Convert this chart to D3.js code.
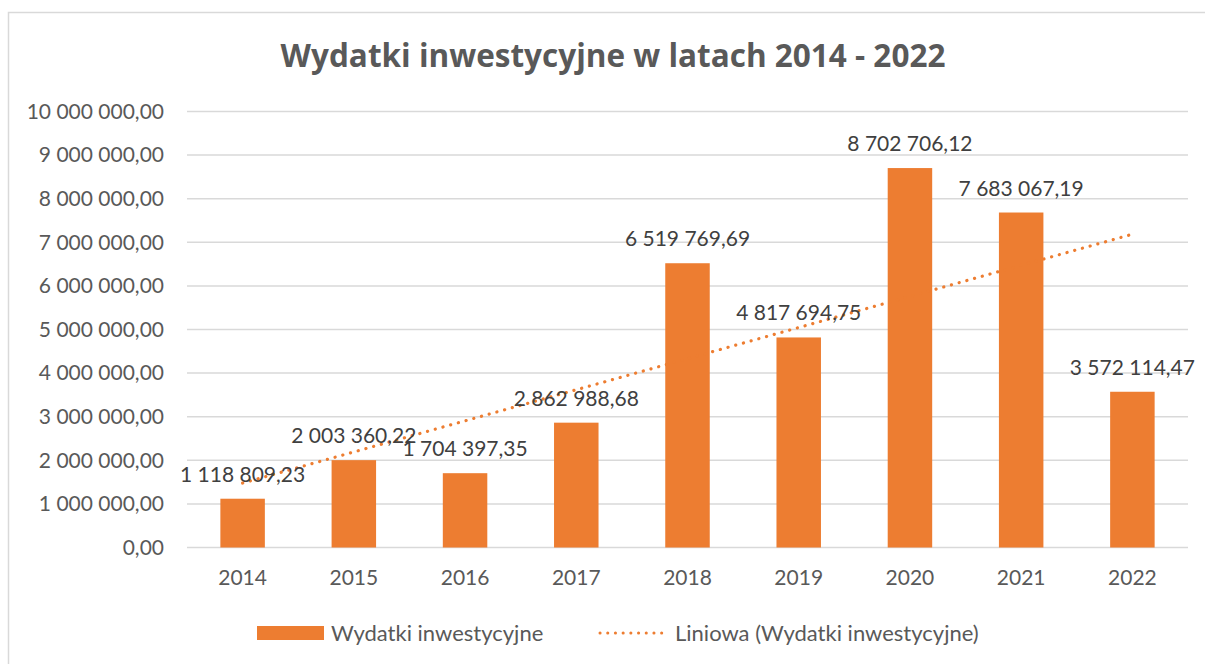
<!DOCTYPE html>
<html><head><meta charset="utf-8">
<script src="https://cdn.jsdelivr.net/npm/d3@7"></script>
<style>
html,body{margin:0;padding:0;background:#fff;}
svg{display:block;font-family:Lato,"Open Sans",sans-serif;}
</style></head>
<body><svg id="c" width="1205" height="664"></svg>
<script>
const categories = ["2014","2015","2016","2017","2018","2019","2020","2021","2022"];
const values = [1118809.23, 2003360.22, 1704397.35, 2862988.68, 6519769.69, 4817694.75, 8702706.12, 7683067.19, 3572114.47];
const labels = ["1 118 809,23","2 003 360,22","1 704 397,35","2 862 988,68","6 519 769,69","4 817 694,75","8 702 706,12","7 683 067,19","3 572 114,47"];
const yTicks = [0,1e6,2e6,3e6,4e6,5e6,6e6,7e6,8e6,9e6,1e7];
const yTickLabels = ["0,00","1 000 000,00","2 000 000,00","3 000 000,00","4 000 000,00","5 000 000,00","6 000 000,00","7 000 000,00","8 000 000,00","9 000 000,00","10 000 000,00"];
const title = "Wydatki inwestycyjne w latach 2014 - 2022";
const seriesName = "Wydatki inwestycyjne";
const trendName = "Liniowa (Wydatki inwestycyjne)";

const orange = "#ED7D31", grid = "#D9D9D9", txt = "#595959", lbl = "#404040";
const svg = d3.select("#c");

// chart border
svg.append("rect").attr("x",8.5).attr("y",12.5).attr("width",1260).attr("height",760)
  .attr("fill","none").attr("stroke",grid).attr("stroke-width",1.5);

const x = d3.scaleBand().domain(categories).range([187,1188]).paddingInner(0.6).paddingOuter(0.3);
const y = d3.scaleLinear().domain([0,1e7]).range([547.5,111.5]);

// gridlines
svg.append("g").selectAll("line").data(yTicks).join("line")
  .attr("x1",187).attr("x2",1188).attr("y1",d=>y(d)).attr("y2",d=>y(d))
  .attr("stroke",grid).attr("stroke-width",1.5);

// y axis labels
const yAxis = d3.axisLeft(y).tickValues(yTicks).tickSize(0).tickPadding(0)
  .tickFormat((d,i)=>yTickLabels[i]);
const gy = svg.append("g").attr("transform","translate(164,0)").call(yAxis);
gy.select(".domain").remove();
gy.selectAll("text").attr("fill",txt).style("font-size","21px").style("font-family","Lato");

// x axis labels
const xAxis = d3.axisBottom(x).tickSize(0).tickPadding(0);
const gx = svg.append("g").attr("transform","translate(0,570)").call(xAxis);
gx.select(".domain").remove();
gx.selectAll("text").attr("fill",txt).style("font-size","21px").style("font-family","Lato");

// bars
svg.append("g").selectAll("rect").data(values).join("rect")
  .attr("x",(d,i)=>x(categories[i])).attr("width",x.bandwidth())
  .attr("y",d=>y(d)).attr("height",d=>y(0)-y(d)).attr("fill",orange);

// trendline (linear regression)
const n = values.length;
const xs = values.map((d,i)=>i+1);
const mx = d3.mean(xs), my = d3.mean(values);
const slope = d3.sum(xs.map((xi,i)=>(xi-mx)*(values[i]-my))) / d3.sum(xs.map(xi=>(xi-mx)**2));
const icpt = my - slope*mx;
const cx = i => x(categories[i]) + x.bandwidth()/2;
const trend = [0, n-1].map(i=>[cx(i), y(icpt + slope*(i+1))]);
svg.append("path").attr("d", d3.line()(trend)).attr("fill","none")
  .attr("stroke",orange).attr("stroke-width",3.2).attr("stroke-linecap","round")
  .attr("stroke-dasharray","0.1 7.9");

// data labels
svg.append("g").selectAll("text").data(values).join("text")
  .attr("x",(d,i)=>cx(i)).attr("y",d=>y(d)-17).attr("text-anchor","middle")
  .attr("fill",lbl).style("font-size","21px").text((d,i)=>labels[i]);

// title
svg.append("text").attr("x",613).attr("y",67).attr("text-anchor","middle")
  .attr("fill",txt).style("font-family","'Open Sans'").style("font-size","31.5px").style("font-weight","bold").text(title);

// legend
const lg = svg.append("g");
lg.append("rect").attr("x",257).attr("y",626).attr("width",67).attr("height",14).attr("fill",orange);
lg.append("text").attr("x",331).attr("y",641).attr("fill",txt).style("font-size","22px").text(seriesName);
lg.append("line").attr("x1",600).attr("x2",668).attr("y1",633).attr("y2",633)
  .attr("stroke",orange).attr("stroke-width",3).attr("stroke-linecap","round").attr("stroke-dasharray","0.1 7.6");
lg.append("text").attr("x",675).attr("y",641).attr("fill",txt).style("font-size","22px").text(trendName);
</script></body></html>
